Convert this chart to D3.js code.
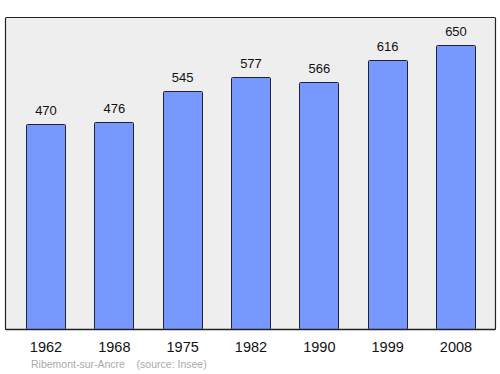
<!DOCTYPE html>
<html><head><meta charset="utf-8">
<script src="https://cdn.jsdelivr.net/npm/d3@7"></script>
<style>html,body{margin:0;padding:0;background:#fff;}svg{display:block;}</style>
</head><body>
<svg id="c" width="500" height="374"></svg>
<script>
const years = ["1962","1968","1975","1982","1990","1999","2008"];
const population = [470,476,545,577,566,616,650];
const sourceText = "Ribemont-sur-Ancre    (source: Insee)";

const svg = d3.select("#c");
const pLeft = 5.5, pRight = 495.5, pTop = 17.5, pBottom = 329.5;
const x = d3.scaleBand().domain(years).range([pLeft, pRight]).paddingInner(0.429).paddingOuter(0.3);
const y = d3.scaleLinear().domain([0, 714]).range([pBottom, pTop]);

svg.append("rect").attr("x", pLeft).attr("y", pTop).attr("width", pRight-pLeft).attr("height", pBottom-pTop)
  .attr("fill", "#eeeeee").attr("stroke", "#222").attr("stroke-width", 1.2).attr("rx", 1);

svg.selectAll("rect.bar").data(years).enter().append("rect").attr("class","bar")
  .attr("x", d => Math.round(x(d)) + 0.5)
  .attr("y", (d,i) => Math.round(y(population[i])) + 0.5)
  .attr("width", Math.round(x.bandwidth()))
  .attr("height", (d,i) => pBottom - Math.round(y(population[i])) - 0.5)
  .attr("fill", "#7799ff").attr("stroke", "#223").attr("stroke-width", 1).attr("rx", 1);

svg.append("line").attr("x1", pLeft).attr("x2", pRight).attr("y1", pBottom).attr("y2", pBottom)
  .attr("stroke", "#222").attr("stroke-width", 1.4);

svg.selectAll("text.val").data(years).enter().append("text").attr("class","val")
  .attr("x", d => x(d) + x.bandwidth()/2 + 0.5)
  .attr("y", (d,i) => Math.round(y(population[i])) - 9.5)
  .attr("text-anchor","middle").attr("font-family","Liberation Sans, Arial, sans-serif")
  .attr("font-size", 13).attr("fill","#111").text((d,i) => population[i]);

svg.selectAll("text.yr").data(years).enter().append("text").attr("class","yr")
  .attr("x", d => x(d) + x.bandwidth()/2 + 0.5)
  .attr("y", 352)
  .attr("text-anchor","middle").attr("font-family","Liberation Sans, Arial, sans-serif")
  .attr("font-size", 14.5).attr("fill","#111").text(d => d);

svg.append("text").attr("x", 31).attr("y", 368).attr("xml:space","preserve")
  .attr("font-family","Liberation Sans, Arial, sans-serif").attr("font-size", 10.5)
  .attr("fill","#aaaaaa").style("white-space","pre").text(sourceText);
</script>
</body></html>
